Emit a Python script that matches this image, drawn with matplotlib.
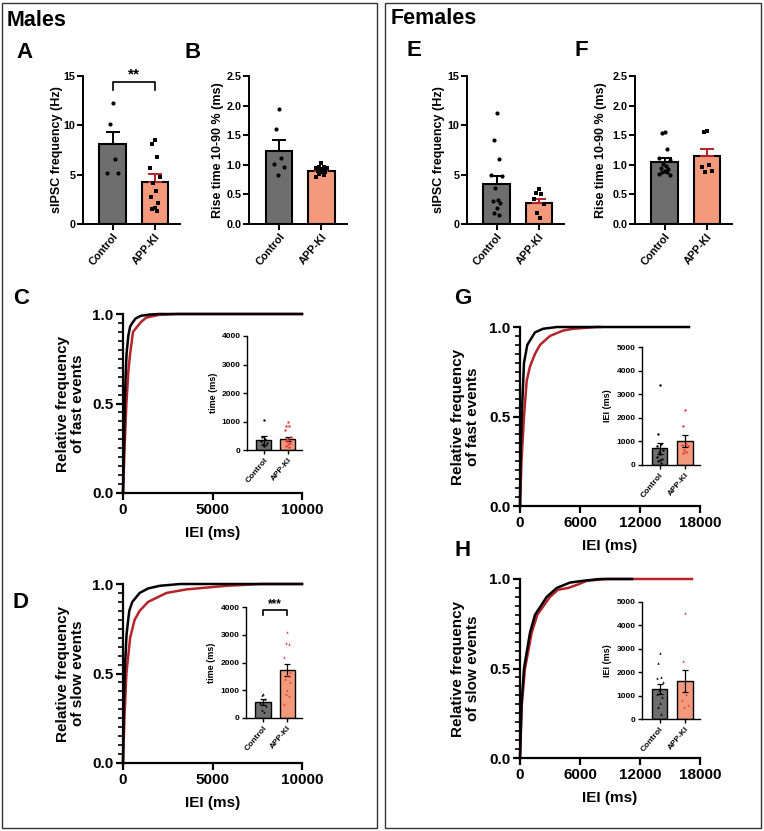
import numpy as np
import matplotlib
matplotlib.use("Agg")
import matplotlib.pyplot as plt
from matplotlib.patches import Rectangle
from matplotlib.ticker import MultipleLocator, FormatStrFormatter

plt.rcParams['font.family'] = ['Liberation Sans', 'DejaVu Sans']
plt.rcParams['font.weight'] = 'bold'

W, H = 764, 831

groups = ["Control", "APP-KI"]

# --- bar data (mean, sem, individual cells) ---
# males, sIPSC frequency (Hz)
m_freq_ctrl = [12.3, 10.1, 6.6, 5.2, 5.2]
m_freq_app = [8.5, 8.1, 6.8, 5.7, 4.8, 4.2, 3.3, 2.7, 2.1, 1.6, 1.5, 1.35]
m_freq_mean = [8.1, 4.3]
m_freq_sem = [1.27, 0.72]

# males, rise time (ms)
m_rise_ctrl = [1.94, 1.61, 1.12, 1.01, 0.97, 0.83]
m_rise_app = [1.03, 0.97, 0.96, 0.95, 0.94, 0.93, 0.92, 0.90, 0.88, 0.87, 0.85, 0.83, 0.80]
m_rise_mean = [1.23, 0.90]
m_rise_sem = [0.19, 0.02]

# females, sIPSC frequency (Hz)
f_freq_ctrl = [11.2, 8.5, 6.6, 5.0, 4.9, 3.6, 2.4, 2.3, 2.1, 1.6, 1.1, 0.95]
f_freq_app = [3.5, 3.1, 3.0, 2.5, 2.0, 1.1, 0.6]
f_freq_mean = [4.05, 2.1]
f_freq_sem = [0.85, 0.45]

# females, rise time (ms)
f_rise_ctrl = [1.55, 1.53, 1.27, 1.12, 1.08, 1.02, 0.98, 0.95, 0.93, 0.90, 0.88, 0.88, 0.85, 0.82]
f_rise_app = [1.57, 1.55, 1.00, 0.97, 0.90, 0.88]
f_rise_mean = [1.05, 1.15]
f_rise_sem = [0.07, 0.11]

# inset data: mean IEI per cell (ms)
c_ins_ctrl = [1050, 450, 380, 300, 250, 200, 150]
c_ins_app = [1000, 850, 850, 700, 450, 400, 350, 300, 250, 200, 150, 100]
c_ins_mean = [340, 390]
c_ins_sem = [150, 80]

d_ins_ctrl = [850, 830, 700, 550, 450, 300, 200]
d_ins_app = [3100, 2700, 2650, 2200, 1650, 1550, 1500, 1400, 1300, 1000, 850, 800, 500]
d_ins_mean = [590, 1740]
d_ins_sem = [110, 210]

g_ins_ctrl = [3400, 1300, 900, 800, 650, 550, 450, 350, 250, 200, 150, 100]
g_ins_app = [2350, 1650, 900, 850, 800, 650, 550, 500]
g_ins_mean = [700, 1000]
g_ins_sem = [230, 250]

h_ins_ctrl = [2800, 2400, 1800, 1750, 1600, 1250, 1150, 1050, 950, 700, 500, 200]
h_ins_app = [4550, 2500, 1050, 800, 600, 500]
h_ins_mean = [1280, 1620]
h_ins_sem = [220, 480]

# --- cumulative distributions (IEI ms, cumulative fraction) ---
c_ctrl_x = [0, 50, 100, 150, 200, 300, 400, 520, 700, 1000, 1500, 2000, 3000, 10000]
c_ctrl_y = [0, 0.25, 0.50, 0.66, 0.78, 0.88, 0.93, 0.95, 0.975, 0.99, 0.997, 1.0, 1.0, 1.0]
c_app_x = [0, 100, 190, 300, 400, 560, 800, 1000, 1300, 2000, 3000, 10000]
c_app_y = [0, 0.28, 0.50, 0.68, 0.78, 0.90, 0.93, 0.955, 0.98, 0.995, 1.0, 1.0]

d_ctrl_x = [0, 40, 90, 200, 350, 520, 930, 1400, 2050, 3200, 10000]
d_ctrl_y = [0, 0.3, 0.50, 0.72, 0.85, 0.90, 0.95, 0.975, 0.99, 1.0, 1.0]
d_app_x = [0, 80, 190, 400, 650, 930, 1400, 2430, 3550, 5800, 7700, 10000]
d_app_y = [0, 0.25, 0.50, 0.70, 0.80, 0.85, 0.90, 0.95, 0.97, 0.99, 1.0, 1.0]

g_ctrl_x = [0, 60, 170, 400, 730, 1500, 2300, 3700, 16900]
g_ctrl_y = [0, 0.3, 0.50, 0.80, 0.90, 0.97, 0.99, 1.0, 1.0]
g_app_x = [0, 150, 400, 670, 1000, 1500, 2000, 3000, 4300, 5300, 7700, 8000]
g_app_y = [0, 0.25, 0.50, 0.70, 0.78, 0.85, 0.90, 0.95, 0.98, 0.99, 1.0, 1.0]

h_ctrl_x = [0, 150, 400, 1000, 1500, 2670, 3670, 5000, 6330, 8000, 11200]
h_ctrl_y = [0, 0.3, 0.50, 0.70, 0.80, 0.90, 0.95, 0.98, 0.99, 1.0, 1.0]
h_app_x = [0, 180, 500, 1170, 1730, 3000, 3800, 4830, 5830, 6670, 8670, 17200]
h_app_y = [0, 0.3, 0.50, 0.70, 0.80, 0.90, 0.94, 0.95, 0.97, 0.99, 1.0, 1.0]

GREY = "#6e6e6e"
SALMON = "#f49a7c"
DARKRED = "#b5242a"
RED = "#e03a3a"

fig = plt.figure(figsize=(W / 100, H / 100), dpi=100)


def ax_px(l, t, r, b):
    return fig.add_axes([l / W, 1 - b / H, (r - l) / W, (b - t) / H])


def spread(n, step):
    offs = np.array([0, -1, 1, -2, 2, -0.5, 0.5, -1.5, 1.5])
    return offs[np.arange(n) % len(offs)] * step


def bar_panel(rect, ctrl, app, mean, sem, ylim, ystep, ylabel, lab_x, app_marker='s',
              inset=False, ctrl_marker='o'):
    ax = ax_px(*rect)
    fs = 6 if inset else 7.8
    ax.bar([0, 1], mean, width=0.62, color=[GREY, SALMON], edgecolor='black',
           linewidth=1.0 if inset else 1.5, zorder=2)
    if inset:
        ax.errorbar([0, 1], mean, yerr=sem, fmt='none', ecolor='black',
                    elinewidth=0.9, capsize=2.5, capthick=0.9, zorder=3)
        pc, pa, s = 'black', RED, 3
    else:
        ax.errorbar([0], mean[0], yerr=[[0], [sem[0]]], fmt='none', ecolor='black',
                    elinewidth=1.4, capsize=5, capthick=1.4, zorder=3)
        ax.errorbar([1], mean[1], yerr=[[0], [sem[1]]], fmt='none', ecolor=DARKRED,
                    elinewidth=1.4, capsize=5, capthick=1.4, zorder=3)
        pc, pa, s = 'black', 'black', 9
    ax.scatter(0 + spread(len(ctrl), 0.06), ctrl, s=s, c=pc, marker=ctrl_marker,
               zorder=4, linewidths=0)
    ax.scatter(1 + spread(len(app), 0.06), app, s=s, c=pa, marker=app_marker,
               zorder=4, linewidths=0)
    ax.set_xlim(-0.7, 1.6)
    ax.set_ylim(*ylim)
    ax.yaxis.set_major_locator(MultipleLocator(ystep))
    for sp in ['top', 'right']:
        ax.spines[sp].set_visible(False)
    lw = 1.0 if inset else 1.4
    for sp in ['left', 'bottom']:
        ax.spines[sp].set_linewidth(lw)
    ax.set_xticks([0, 1])
    ax.set_xticklabels(groups, rotation=50, ha='right', rotation_mode='anchor',
                       fontsize=fs, fontweight='bold')
    ax.tick_params(axis='both', labelsize=fs, width=lw, length=3 if inset else 4, pad=1.5)
    ax.set_ylabel(ylabel, fontsize=6.5 if inset else 9, fontweight='bold')
    ax.yaxis.set_label_coords(lab_x, 0.5)
    return ax


def bracket(ax, y0, y1, text, fs):
    ax.plot([0, 0, 1, 1], [y0, y1, y1, y0], color='black', lw=1.2, clip_on=False)
    ax.text(0.5, y1, text, ha='center', va='bottom', fontsize=fs, fontweight='bold')


def cum_panel(rect, cx, cy, ax_, ay, xmax, xstep, ylabel, lab_x):
    ax = ax_px(*rect)
    ax.plot(ax_, ay, color=DARKRED, lw=1.8, clip_on=False, zorder=2)
    ax.plot(cx, cy, color='black', lw=1.8, clip_on=False, zorder=3)
    ax.set_xlim(0, xmax)
    ax.set_ylim(0, 1)
    ax.xaxis.set_major_locator(MultipleLocator(xstep))
    ax.yaxis.set_major_locator(MultipleLocator(0.5))
    ax.yaxis.set_minor_locator(MultipleLocator(0.05))
    ax.yaxis.set_major_formatter(FormatStrFormatter('%.1f'))
    for sp in ['top', 'right']:
        ax.spines[sp].set_visible(False)
    for sp in ['left', 'bottom']:
        ax.spines[sp].set_linewidth(1.6)
    ax.tick_params(axis='both', labelsize=11, width=1.6, length=5, pad=2)
    ax.tick_params(axis='y', which='minor', width=1.2, length=3.5)
    ax.set_ylabel(ylabel, fontsize=11, fontweight='bold', linespacing=1.1)
    ax.yaxis.set_label_coords(lab_x, 0.5)
    ax.set_xlabel("IEI (ms)", fontsize=11, fontweight='bold', labelpad=7)
    return ax


# frames
fig.add_artist(Rectangle((2 / W, 3 / H), 375 / W, 825 / H, transform=fig.transFigure,
                         fill=False, lw=1.0, edgecolor='#333333'))
fig.add_artist(Rectangle((385 / W, 3 / H), 376 / W, 825 / H, transform=fig.transFigure,
                         fill=False, lw=1.0, edgecolor='#333333'))

# titles and panel letters
fig.text(7 / W, 1 - 20 / H, "Males", fontsize=15.5, fontweight='bold', va='center')
fig.text(391 / W, 1 - 18 / H, "Females", fontsize=15.5, fontweight='bold', va='center')
for lab, x, y in [("A", 16, 53), ("B", 184, 53), ("E", 406, 50), ("F", 574, 50),
                  ("C", 13, 299), ("D", 13, 603), ("G", 454, 299), ("H", 454, 550)]:
    fig.text(x / W, 1 - y / H, lab, fontsize=16, fontweight='bold', va='center')

# top bar panels
axA = bar_panel((83, 76, 180, 224), m_freq_ctrl, m_freq_app, m_freq_mean, m_freq_sem,
                (0, 15), 5, "sIPSC frequency (Hz)", -0.21)
bracket(axA, 13.6, 14.4, "**", 11)
bar_panel((249, 76, 347, 224), m_rise_ctrl, m_rise_app, m_rise_mean, m_rise_sem,
          (0, 2.5), 0.5, "Rise time 10-90 % (ms)", -0.25)
bar_panel((467, 76, 564, 224), f_freq_ctrl, f_freq_app, f_freq_mean, f_freq_sem,
          (0, 15), 5, "sIPSC frequency (Hz)", -0.23)
bar_panel((635, 76, 732, 224), f_rise_ctrl, f_rise_app, f_rise_mean, f_rise_sem,
          (0, 2.5), 0.5, "Rise time 10-90 % (ms)", -0.29)

# cumulative panels
cum_panel((123, 314, 302, 493), c_ctrl_x, c_ctrl_y, c_app_x, c_app_y, 10000, 5000,
          "Relative frequency\nof fast events", -0.21)
cum_panel((123, 584, 302, 763), d_ctrl_x, d_ctrl_y, d_app_x, d_app_y, 10000, 5000,
          "Relative frequency\nof slow events", -0.21)
cum_panel((520, 327, 700, 506), g_ctrl_x, g_ctrl_y, g_app_x, g_app_y, 18000, 6000,
          "Relative frequency\nof fast events", -0.22)
cum_panel((520, 579, 700, 758), h_ctrl_x, h_ctrl_y, h_app_x, h_app_y, 18000, 6000,
          "Relative frequency\nof slow events", -0.22)

# insets
bar_panel((247, 336, 302, 450), c_ins_ctrl, c_ins_app, c_ins_mean, c_ins_sem,
          (0, 4000), 1000, "time (ms)", -0.53, app_marker='o', inset=True)
axDi = bar_panel((246, 607, 302, 718), d_ins_ctrl, d_ins_app, d_ins_mean, d_ins_sem,
                 (0, 4000), 1000, "time (ms)", -0.53, app_marker='^', ctrl_marker='^',
                 inset=True)
bracket(axDi, 3700, 3900, "***", 8.5)
bar_panel((642, 347, 700, 465), g_ins_ctrl, g_ins_app, g_ins_mean, g_ins_sem,
          (0, 5000), 1000, "IEI (ms)", -0.52, app_marker='o', inset=True)
bar_panel((642, 602, 700, 719), h_ins_ctrl, h_ins_app, h_ins_mean, h_ins_sem,
          (0, 5000), 1000, "IEI (ms)", -0.52, app_marker='^', ctrl_marker='^', inset=True)

fig.savefig("out.png", dpi=100)
